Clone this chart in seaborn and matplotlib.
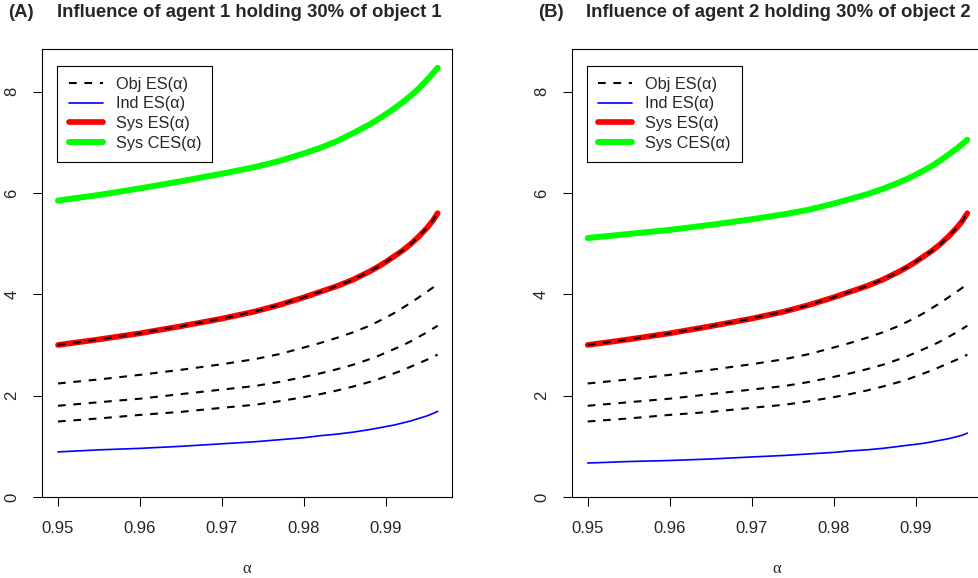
import matplotlib
matplotlib.use("Agg")
import matplotlib.pyplot as plt
from matplotlib.lines import Line2D
import seaborn as sns

# alpha levels (x axis)
alpha = [0.95, 0.955, 0.96, 0.965, 0.97, 0.974, 0.977, 0.98, 0.982, 0.984, 0.986,
         0.988, 0.989, 0.990, 0.991, 0.992, 0.993, 0.994, 0.995, 0.9957, 0.9963]

# Obj ES curves - same in both panels, the first one lies on top of Sys ES
obj_es_1 = [3.00, 3.11, 3.23, 3.37, 3.52, 3.66, 3.79, 3.94, 4.05, 4.16, 4.29,
            4.45, 4.54, 4.64, 4.75, 4.86, 4.99, 5.14, 5.31, 5.45, 5.60]
obj_es_2 = [2.24, 2.32, 2.41, 2.51, 2.62, 2.72, 2.82, 2.95, 3.04, 3.14, 3.25,
            3.38, 3.46, 3.54, 3.63, 3.73, 3.83, 3.94, 4.05, 4.13, 4.20]
obj_es_3 = [1.80, 1.87, 1.94, 2.03, 2.12, 2.19, 2.27, 2.37, 2.44, 2.52, 2.61,
            2.72, 2.78, 2.85, 2.92, 2.99, 3.07, 3.16, 3.25, 3.32, 3.38]
obj_es_4 = [1.49, 1.55, 1.62, 1.68, 1.76, 1.82, 1.89, 1.97, 2.03, 2.10, 2.18,
            2.27, 2.32, 2.38, 2.44, 2.50, 2.57, 2.64, 2.71, 2.76, 2.81]

# Sys ES - same in both panels
sys_es = [3.00, 3.11, 3.23, 3.37, 3.52, 3.66, 3.79, 3.94, 4.05, 4.16, 4.29,
          4.45, 4.54, 4.64, 4.75, 4.86, 4.99, 5.14, 5.31, 5.45, 5.60]

# panel A: agent 1
ind_es_a = [0.89, 0.93, 0.96, 1.00, 1.05, 1.09, 1.13, 1.17, 1.21, 1.24, 1.28,
            1.33, 1.36, 1.39, 1.42, 1.46, 1.50, 1.55, 1.60, 1.645, 1.69]
sys_ces_a = [5.85, 5.96, 6.09, 6.23, 6.38, 6.51, 6.63, 6.78, 6.89, 7.02, 7.18,
             7.35, 7.45, 7.555, 7.665, 7.785, 7.915, 8.06, 8.23, 8.355, 8.47]

# panel B: agent 2
ind_es_b = [0.67, 0.70, 0.72, 0.75, 0.79, 0.82, 0.85, 0.88, 0.91, 0.93, 0.96,
            1.00, 1.02, 1.04, 1.06, 1.09, 1.12, 1.15, 1.19, 1.22, 1.26]
sys_ces_b = [5.11, 5.19, 5.27, 5.37, 5.48, 5.58, 5.67, 5.79, 5.88, 5.97, 6.08,
             6.21, 6.28, 6.36, 6.445, 6.535, 6.64, 6.755, 6.875, 6.965, 7.05]

x_ticks = [0.95, 0.96, 0.97, 0.98, 0.99]
x_tick_labels = ["0.95", "0.96", "0.97", "0.98", "0.99"]
y_ticks = [0, 2, 4, 6, 8]
y_tick_labels = ["0", "2", "4", "6", "8"]

panel_tags = ["(A)", "(B)"]
panel_titles = ["Influence of agent 1 holding 30% of object 1",
                "Influence of agent 2 holding 30% of object 2"]
legend_labels = ["Obj ES(\u03b1)", "Ind ES(\u03b1)", "Sys ES(\u03b1)", "Sys CES(\u03b1)"]

sns.set_style("white")
plt.rcParams["font.family"] = ["Liberation Sans", "DejaVu Sans"]

W, H = 979, 578
DASH = (0, (3.7, 3.7))
FS = 12


def draw_panel(ax, ind_es, sys_ces):
    sns.lineplot(x=alpha, y=sys_ces, ax=ax, color="#00ff00", lw=4.3,
                 solid_capstyle="round", solid_joinstyle="round")
    sns.lineplot(x=alpha, y=sys_es, ax=ax, color="#ff0000", lw=4.1,
                 solid_capstyle="round", solid_joinstyle="round")
    for obj in [obj_es_1, obj_es_2, obj_es_3, obj_es_4]:
        sns.lineplot(x=alpha, y=obj, ax=ax, color="black", lw=1.5, linestyle=DASH)
    sns.lineplot(x=alpha, y=ind_es, ax=ax, color="#0000ff", lw=1.2,
                 solid_capstyle="round", solid_joinstyle="round")

    ax.set_xlim(0.94805, 0.99805)
    ax.set_ylim(0, 8.84)
    ax.set_xticks(x_ticks, x_tick_labels)
    ax.set_yticks(y_ticks, y_tick_labels)
    ax.tick_params(direction="out", length=6.8, width=0.75, color="black",
                   labelsize=FS, bottom=True, left=True)
    ax.tick_params(axis="x", pad=10.5)
    ax.tick_params(axis="y", pad=9.5)
    for lab in ax.get_yticklabels():
        lab.set_rotation(90)
        lab.set_va("center")
    for s in ax.spines.values():
        s.set_visible(True)
        s.set_color("black")
        s.set_linewidth(0.8)
    ax.set_xlabel("\u03b1", fontsize=FS, family=["Liberation Serif", "DejaVu Serif"],
                  labelpad=18)
    ax.set_ylabel("")

    handles = [
        Line2D([], [], color="black", lw=1.5, linestyle=DASH),
        Line2D([], [], color="#0000ff", lw=1.2),
        Line2D([], [], color="#ff0000", lw=4.1),
        Line2D([], [], color="#00ff00", lw=4.3),
    ]
    leg = ax.legend(handles, legend_labels, loc="upper left",
                    bbox_to_anchor=(15.3 / 410, 1 - 16.7 / 448), borderaxespad=0,
                    fontsize=11.7, frameon=True, fancybox=False, shadow=False,
                    framealpha=1, edgecolor="black", handlelength=2.1,
                    handletextpad=0.8, labelspacing=0.28, borderpad=0.69)
    leg.get_frame().set_linewidth(0.8)


fig = plt.figure(figsize=(W / 100, H / 100), dpi=100)
ax_a = fig.add_axes([42 / W, 81 / H, 410 / W, 448 / H])
ax_b = fig.add_axes([571.7 / W, 81 / H, 410 / W, 448 / H])

draw_panel(ax_a, ind_es_a, sys_ces_a)
draw_panel(ax_b, ind_es_b, sys_ces_b)

# titles, R-style: tag on the far left, main title centred over the plot
for off, tag, title in zip([0, 529.7], panel_tags, panel_titles):
    fig.text((8.3 + off) / W, 1 - 17.3 / H, tag, ha="left", va="baseline",
             fontsize=13.3, fontweight="bold")
    fig.text((249 + off) / W, 1 - 17.3 / H, title, ha="center", va="baseline",
             fontsize=13.3, fontweight="bold")

fig.savefig("out.png", dpi=100)
